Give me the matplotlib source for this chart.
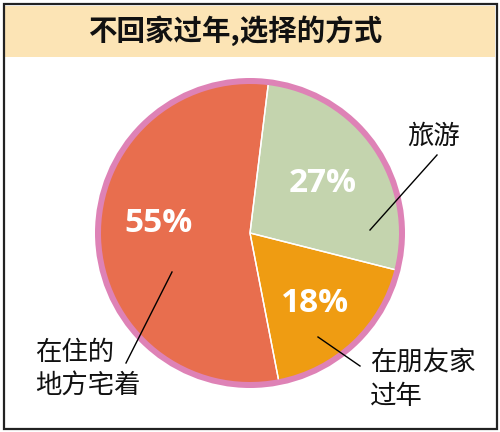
import numpy as np
import matplotlib
matplotlib.use("Agg")
import matplotlib.pyplot as plt
from matplotlib.patches import Rectangle, Circle

# ---- data ----
title = "不回家过年,选择的方式"
categories = ["旅游", "在朋友家\n过年", "在住的\n地方宅着"]
values = [27, 18, 55]
colors = ["#C4D4AE", "#EF9C12", "#E86E4E"]

CJK = ["Noto Sans CJK SC", "DejaVu Sans"]

W, H = 500, 432
fig = plt.figure(figsize=(W / 100, H / 100), dpi=100)
ax = fig.add_axes([0, 0, 1, 1])

def Y(ypx):
    return H - ypx

cx, cy = 250, Y(233)
r_outer, r_inner = 155, 149

# pink ring
ax.add_patch(Circle((cx, cy), r_outer, facecolor="#DE82B6", edgecolor="none", zorder=1))

wedges, _ = ax.pie(values, colors=colors, startangle=83, counterclock=False,
                   radius=r_inner, center=(cx, cy),
                   wedgeprops=dict(linewidth=0, zorder=2))
for w in wedges:
    w.set_zorder(2)
    for th in (w.theta1, w.theta2):
        t = np.deg2rad(th)
        ax.plot([cx, cx + r_inner * np.cos(t)], [cy, cy + r_inner * np.sin(t)],
                color="white", lw=1.0, zorder=3, solid_capstyle="butt")

ax.set_xlim(0, W)
ax.set_ylim(0, H)
ax.set_aspect("auto")
ax.axis("off")

# frame and title band
ax.add_patch(Rectangle((5, Y(57)), 490, 51, facecolor="#FCE4B5", edgecolor="none", zorder=0))
ax.add_patch(Rectangle((3.5, Y(428.5)), 493, 424.5, facecolor="none", edgecolor="#222222",
                       lw=1.6, zorder=5))
ax.text(235, Y(31), title, family=CJK, fontweight="bold", fontsize=20.5,
        ha="center", va="center", color="#111111", zorder=6)

# percent labels
pct_pos = [(323, 183), (315, 303), (158, 224)]
for v, (px, py) in zip(values, pct_pos):
    ax.text(px, Y(py), f"{v}%", family=["Open Sans", "DejaVu Sans"], fontweight="bold",
            fontsize=24, color="white", ha="center", va="center", zorder=6)

# category labels (line by line)
label_pos = [(407, [136]), (370, [362, 396]), (35, [352, 385])]
for lab, (px, rows) in zip(categories, label_pos):
    for line, ry in zip(lab.split("\n"), rows):
        ax.text(px, Y(ry), line, family=CJK, fontsize=19, color="#111111",
                ha="left", va="center", zorder=6)

# leader lines
leaders = [((370, 230), (437, 155)), ((318, 337), (360, 366)), ((172, 272), (126, 363))]
for (x0, y0), (x1, y1) in leaders:
    ax.plot([x0, x1], [Y(y0), Y(y1)], color="black", lw=1.0, zorder=4)

fig.savefig("out.png", dpi=100)
